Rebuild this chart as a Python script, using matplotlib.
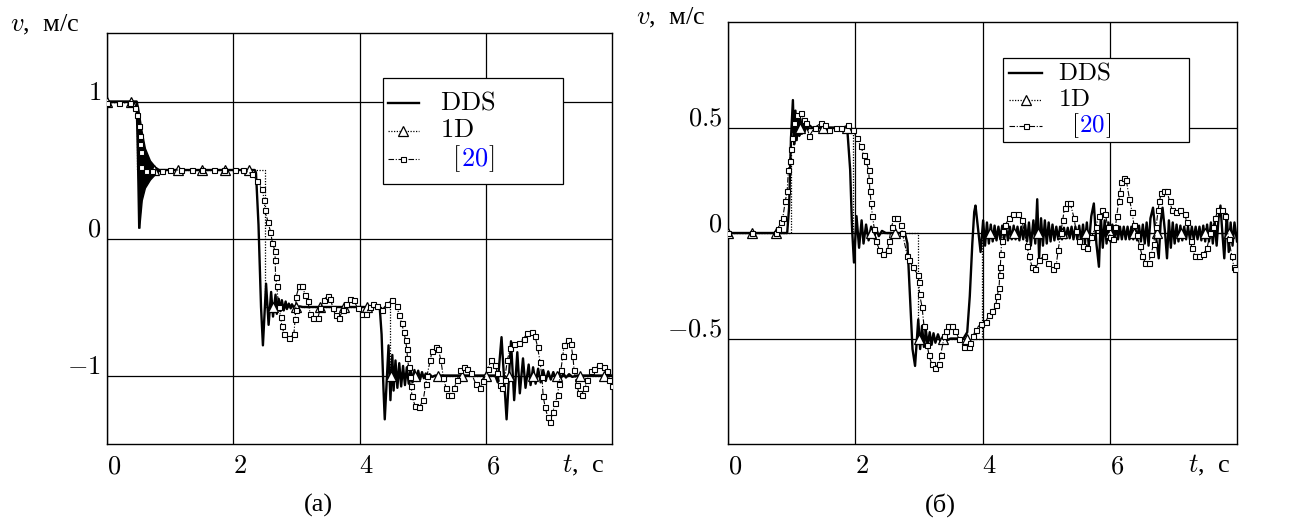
import numpy as np
import matplotlib
matplotlib.use('Agg')
import matplotlib.pyplot as plt
from matplotlib.transforms import offset_copy
from matplotlib.lines import Line2D
from matplotlib.patches import Rectangle

plt.rcParams['mathtext.fontset'] = 'cm'
plt.rcParams['font.family'] = ['Liberation Serif', 'DejaVu Serif']

FS = 19

# ---------------- panel (a) data ----------------
# DDS: plateau/oscillating line
a_dds_t = [0.0, 0.47, 0.49, 0.51]
a_dds_v = [1.0, 1.0, 0.6, 0.08]
# DDS dense damped burst right after t~0.5 (envelope)
a_env_t = [0.47, 0.49, 0.51, 0.55, 0.60, 0.68, 0.76, 0.84]
a_env_hi = [1.0, 0.96, 0.90, 0.78, 0.66, 0.57, 0.525, 0.50]
a_env_lo = [1.0, 0.50, 0.08, 0.28, 0.37, 0.43, 0.47, 0.50]
a_dds2_t = [0.84, 2.34, 2.36, 2.40, 2.44, 2.47, 2.52, 2.56, 2.60, 2.63, 2.67, 2.69,
            2.72, 2.75, 2.77, 2.80, 2.83, 2.85, 2.88, 2.91, 2.93, 2.96, 2.99, 3.02,
            3.05, 3.10, 4.32, 4.35, 4.38, 4.40, 4.46, 4.49, 4.52, 4.54, 4.57, 4.60,
            4.63, 4.66, 4.69, 4.72, 4.75, 4.78, 4.81, 4.84, 4.87, 4.90, 4.93, 4.96,
            4.99, 5.02, 5.05, 5.08, 5.11, 5.15, 5.20, 6.15, 6.19, 6.25, 6.33, 6.40,
            6.45, 6.50, 6.54, 6.59, 6.63, 6.68, 6.71, 6.75, 6.79, 6.83, 6.87, 6.91,
            6.95, 6.99, 7.03, 7.07, 7.11, 7.15, 7.19, 7.23, 7.27, 7.32, 7.37, 7.45, 8.0]
a_dds2_v = [0.5, 0.5, 0.48, 0.1, -0.5, -0.78, -0.33, -0.63, -0.39, -0.57, -0.41, -0.55,
            -0.44, -0.53, -0.45, -0.525, -0.46, -0.515, -0.475, -0.51, -0.48, -0.505, -0.49, -0.505,
            -0.495, -0.5, -0.5, -0.7, -1.1, -1.32, -0.78, -1.18, -0.85, -1.11, -0.89, -1.09,
            -0.91, -1.08, -0.93, -1.07, -0.94, -1.06, -0.95, -1.05, -0.96, -1.04, -0.965, -1.03,
            -0.975, -1.02, -0.985, -1.015, -0.99, -1.01, -1.0, -1.0, -1.05, -0.72, -1.32, -0.75,
            -1.18, -0.83, -1.13, -0.875, -1.09, -0.92, -1.07, -0.94, -1.06, -0.95, -1.05, -0.96,
            -1.04, -0.97, -1.03, -0.975, -1.025, -0.98, -1.02, -0.985, -1.015, -0.99, -1.01, -1.0, -1.0]

# 1D: step solution
a_1d_t = [0.0, 0.47, 0.47, 2.50, 2.50, 4.48, 4.48, 8.0]
a_1d_v = [1.0, 1.0, 0.5, 0.5, -0.5, -0.5, -1.0, -1.0]
tri_t = [0.0, 0.375, 0.75, 1.125, 1.5, 1.875, 2.25, 2.625, 3.0, 3.375, 3.75,
         4.125, 4.5, 4.875, 5.25, 5.625, 6.0, 6.375, 6.75, 7.125, 7.5, 7.875]
a_tri_v = [1.0, 1.0, 0.5, 0.5, 0.5, 0.5, 0.5, -0.5, -0.5, -0.5, -0.5,
           -0.5, -1.0, -1.0, -1.0, -1.0, -1.0, -1.0, -1.0, -1.0, -1.0, -1.0]

# [20]
a_ref_t = [0.0, 0.19, 0.37, 0.44, 0.48, 0.51, 0.52, 0.53, 0.535, 0.54, 0.62, 0.72, 0.87,
           1.0, 1.17, 1.34, 1.51, 1.69, 1.86, 2.02, 2.16, 2.30, 2.38, 2.46, 2.49, 2.50,
           2.55, 2.59, 2.62, 2.66, 2.665, 2.67, 2.69, 2.72, 2.75, 2.77, 2.81, 2.89, 2.96,
           2.98, 2.99, 2.995, 3.04, 3.09, 3.14, 3.18, 3.22, 3.27, 3.34, 3.38, 3.43, 3.50,
           3.54, 3.58, 3.62, 3.68, 3.74, 3.79, 3.85, 3.91, 3.97, 4.04, 4.10, 4.16, 4.22,
           4.28, 4.36, 4.44, 4.52, 4.59, 4.63, 4.67, 4.70, 4.73, 4.75, 4.76, 4.78, 4.80,
           4.82, 4.83, 4.88, 4.95, 5.01, 5.05, 5.07, 5.12, 5.15, 5.21, 5.25, 5.29, 5.33,
           5.37, 5.40, 5.45, 5.50, 5.55, 5.59, 5.65, 5.71, 5.77, 5.84, 5.91, 5.96, 6.03,
           6.09, 6.15, 6.18, 6.23, 6.26, 6.30, 6.34, 6.39, 6.45, 6.53, 6.60, 6.66, 6.73,
           6.78, 6.82, 6.86, 6.89, 6.91, 6.94, 6.98, 7.02, 7.06, 7.10, 7.14, 7.16, 7.19,
           7.22, 7.24, 7.30, 7.35, 7.38, 7.40, 7.44, 7.48, 7.52, 7.57, 7.61, 7.67, 7.72,
           7.80, 7.87, 7.92, 7.96, 8.00]
a_ref_v = [0.99, 0.99, 0.99, 0.955, 0.90, 0.82, 0.75, 0.69, 0.635, 0.52, 0.495, 0.49, 0.495,
           0.5, 0.5, 0.5, 0.5, 0.5, 0.5, 0.5, 0.5, 0.47, 0.42, 0.36, 0.28, 0.21,
           0.12, 0.05, -0.03, -0.09, -0.16, -0.28, -0.35, -0.50, -0.57, -0.64, -0.70, -0.725, -0.70,
           -0.59, -0.52, -0.43, -0.35, -0.35, -0.41, -0.456, -0.55, -0.58, -0.58, -0.51, -0.446, -0.42,
           -0.44, -0.51, -0.56, -0.58, -0.52, -0.475, -0.44, -0.45, -0.51, -0.55, -0.55, -0.50, -0.475,
           -0.49, -0.52, -0.475, -0.45, -0.49, -0.56, -0.62, -0.68, -0.74, -0.81, -0.875, -0.94, -1.01,
           -1.08, -1.15, -1.22, -1.23, -1.18, -1.06, -1.0, -0.89, -0.82, -0.795, -0.81, -0.89, -1.02,
           -1.09, -1.14, -1.14, -1.09, -1.03, -0.96, -0.94, -0.95, -0.98, -1.06, -1.09, -1.04, -0.95,
           -0.89, -0.92, -0.98, -1.07, -1.09, -1.03, -0.89, -0.80, -0.77, -0.76, -0.73, -0.69, -0.68,
           -0.71, -0.79, -0.90, -1.01, -1.15, -1.23, -1.30, -1.34, -1.27, -1.20, -1.14, -1.06, -0.96,
           -0.86, -0.78, -0.74, -0.77, -0.86, -0.96, -1.07, -1.13, -1.14, -1.09, -1.03, -0.97, -0.95,
           -0.92, -0.94, -0.97, -1.03, -1.08]

# ---------------- panel (б) data ----------------
b_dds_t = [0.00, 0.93, 0.96, 0.99, 1.02, 1.04, 1.06, 1.08, 1.10, 1.12, 1.14, 1.16, 1.18, 1.20,
           1.22, 1.25, 1.28, 1.32, 1.84, 1.88, 1.92, 1.95, 1.98, 2.02, 2.06, 2.10, 2.13, 2.17,
           2.21, 2.25, 2.29, 2.33, 2.37, 2.42, 2.48, 2.78, 2.82, 2.86, 2.90, 2.94, 2.99, 3.02,
           3.05, 3.08, 3.11, 3.14, 3.17, 3.20, 3.23, 3.26, 3.30, 3.34, 3.38, 3.43, 3.50, 3.70,
           3.76, 3.80, 3.84, 3.87, 3.89, 3.93, 3.97, 4.01, 4.04, 4.07, 4.10, 4.13, 4.16, 4.19,
           4.22, 4.25, 4.28, 4.31, 4.34, 4.37, 4.40, 4.43, 4.46, 4.49, 4.52, 4.55, 4.58, 4.61,
           4.64, 4.67, 4.70, 4.73, 4.76, 4.80, 4.83, 4.86, 4.89, 4.92, 4.95, 4.98, 5.01, 5.04,
           5.07, 5.10, 5.13, 5.16, 5.19, 5.22, 5.25, 5.28, 5.31, 5.34, 5.37, 5.40, 5.43, 5.46,
           5.49, 5.52, 5.55, 5.58, 5.61, 5.64, 5.67, 5.71, 5.75, 5.79, 5.83, 5.86, 5.89, 5.92,
           5.95, 5.98, 6.01, 6.04, 6.07, 6.10, 6.13, 6.16, 6.19, 6.22, 6.25, 6.28, 6.31, 6.34,
           6.37, 6.40, 6.43, 6.46, 6.49, 6.52, 6.55, 6.58, 6.61, 6.64, 6.68, 6.72, 6.77, 6.80,
           6.83, 6.87, 6.90, 6.93, 6.96, 6.99, 7.02, 7.05, 7.08, 7.11, 7.14, 7.17, 7.20, 7.23,
           7.26, 7.29, 7.32, 7.35, 7.38, 7.41, 7.44, 7.47, 7.50, 7.53, 7.56, 7.59, 7.62, 7.65,
           7.68, 7.71, 7.74, 7.77, 7.80, 7.84, 7.87, 7.90, 7.93, 7.96, 8.00]
b_dds_v = [0.0, 0.0, 0.12, 0.45, 0.63, 0.42, 0.58, 0.44, 0.56, 0.46, 0.54, 0.47, 0.53, 0.48,
           0.52, 0.49, 0.51, 0.50, 0.50, 0.47, 0.30, 0.02, -0.14, 0.08, -0.07, 0.06, -0.05, 0.04,
           -0.035, 0.03, -0.025, 0.02, -0.015, 0.01, 0.0, 0.0, -0.05, -0.30, -0.55, -0.63, -0.41, -0.55,
           -0.44, -0.54, -0.46, -0.535, -0.47, -0.53, -0.475, -0.52, -0.48, -0.515, -0.49, -0.51, -0.5, -0.5,
           -0.47, -0.30, -0.05, 0.10, 0.13, 0.02, -0.09, 0.06, -0.06, 0.05, -0.05, 0.04, -0.04, 0.035,
           -0.035, 0.03, -0.03, 0.035, -0.03, 0.03, -0.035, 0.03, -0.03, 0.035, -0.03, 0.03, -0.035, 0.03,
           -0.03, 0.04, -0.04, 0.05, -0.06, 0.06, -0.05, 0.16, -0.12, 0.07, -0.06, 0.06, -0.05, 0.05,
           -0.04, 0.04, -0.035, 0.03, -0.03, 0.03, -0.03, 0.025, -0.025, 0.025, -0.025, 0.03, -0.03, 0.03,
           -0.03, 0.035, -0.04, 0.04, -0.05, 0.05, -0.06, 0.08, 0.14, -0.05, -0.16, 0.08, -0.07, 0.06,
           -0.05, 0.05, -0.04, 0.04, -0.035, 0.035, -0.03, 0.03, -0.03, 0.03, -0.03, 0.03, -0.03, 0.03,
           -0.03, 0.03, -0.035, 0.035, -0.04, 0.04, -0.05, 0.05, -0.06, 0.07, 0.12, 0.0, -0.12, 0.05,
           0.12, 0.0, -0.12, 0.06, -0.07, 0.05, -0.05, 0.04, -0.04, 0.035, -0.035, 0.03, -0.03, 0.03,
           -0.03, 0.03, -0.03, 0.03, -0.03, 0.03, -0.035, 0.035, -0.04, 0.04, -0.04, 0.05, -0.05, 0.05,
           -0.06, 0.07, 0.13, 0.0, -0.12, 0.09, -0.09, 0.05, -0.06, 0.05, -0.04]

b_1d_t = [0.0, 0.99, 0.99, 1.97, 1.97, 2.99, 2.99, 3.99, 3.99, 8.0]
b_1d_v = [0.0, 0.0, 0.5, 0.5, 0.0, 0.0, -0.5, -0.5, 0.0, 0.0]
b_tri_v = [0.0, 0.0, 0.0, 0.5, 0.5, 0.5, 0.0, 0.0, -0.5, -0.5, -0.5,
           0.0, 0.0, 0.0, 0.0, 0.0, 0.0, 0.0, 0.0, 0.0, 0.0, 0.0]

b_ref_t = [0.0, 0.37, 0.75, 0.78, 0.83, 0.86, 0.90, 0.93, 0.95, 0.97, 0.99, 1.00, 1.04, 1.08,
           1.15, 1.19, 1.22, 1.28, 1.36, 1.46, 1.53, 1.59, 1.70, 1.78, 1.88, 1.96, 2.02, 2.09,
           2.13, 2.17, 2.21, 2.22, 2.23, 2.25, 2.27, 2.30, 2.33, 2.38, 2.44, 2.51, 2.53, 2.57,
           2.61, 2.66, 2.72, 2.74, 2.82, 2.85, 2.90, 2.99, 3.00, 3.01, 3.05, 3.08, 3.13, 3.16,
           3.20, 3.25, 3.31, 3.34, 3.40, 3.42, 3.46, 3.52, 3.57, 3.63, 3.71, 3.79, 3.81, 3.85,
           3.89, 3.97, 4.05, 4.10, 4.15, 4.21, 4.23, 4.26, 4.27, 4.28, 4.29, 4.30, 4.32, 4.36,
           4.42, 4.48, 4.56, 4.62, 4.70, 4.73, 4.78, 4.83, 4.89, 4.96, 5.03, 5.11, 5.16, 5.19,
           5.23, 5.26, 5.29, 5.33, 5.38, 5.44, 5.47, 5.51, 5.58, 5.64, 5.71, 5.78, 5.83, 5.88,
           5.93, 5.97, 6.01, 6.05, 6.09, 6.11, 6.14, 6.16, 6.18, 6.22, 6.26, 6.31, 6.35, 6.38,
           6.43, 6.47, 6.51, 6.56, 6.61, 6.65, 6.69, 6.73, 6.76, 6.78, 6.81, 6.85, 6.90, 6.94,
           6.98, 7.04, 7.11, 7.18, 7.21, 7.27, 7.29, 7.34, 7.41, 7.47, 7.53, 7.58, 7.62, 7.66,
           7.70, 7.76, 7.81, 7.87, 7.92, 7.95, 7.97]
b_ref_v = [0.0, 0.0, 0.0, 0.02, 0.05, 0.07, 0.15, 0.20, 0.30, 0.34, 0.40, 0.45, 0.52, 0.56,
           0.57, 0.535, 0.52, 0.46, 0.50, 0.52, 0.51, 0.49, 0.50, 0.50, 0.51, 0.49, 0.45, 0.41,
           0.37, 0.34, 0.30, 0.25, 0.20, 0.14, 0.08, 0.02, -0.04, -0.08, -0.10, -0.08, -0.04, 0.03,
           0.07, 0.07, 0.04, 0.0, -0.11, -0.13, -0.16, -0.20, -0.23, -0.29, -0.35, -0.44, -0.53, -0.58,
           -0.62, -0.64, -0.62, -0.58, -0.49, -0.465, -0.44, -0.44, -0.465, -0.50, -0.54, -0.54, -0.52, -0.49,
           -0.46, -0.43, -0.42, -0.39, -0.37, -0.34, -0.30, -0.26, -0.20, -0.16, -0.10, -0.04, 0.01, 0.04,
           0.07, 0.09, 0.09, 0.06, -0.06, -0.11, -0.16, -0.17, -0.13, -0.11, -0.14, -0.17, -0.15, -0.08,
           0.0, 0.06, 0.12, 0.14, 0.14, 0.07, 0.01, -0.04, -0.06, -0.07, -0.02, 0.03, 0.08, 0.11,
           0.09, 0.03, -0.02, -0.03, 0.03, 0.08, 0.15, 0.19, 0.24, 0.26, 0.25, 0.16, 0.10, 0.04,
           -0.01, -0.06, -0.11, -0.14, -0.14, -0.10, -0.05, 0.03, 0.11, 0.15, 0.19, 0.20, 0.20, 0.15,
           0.11, 0.10, 0.11, 0.09, 0.05, -0.04, -0.07, -0.11, -0.11, -0.10, -0.07, 0.0, 0.03, 0.07,
           0.11, 0.11, 0.08, -0.03, -0.11, -0.16, -0.17]

xticks = [0, 2, 4, 6]
a_yticks = [1, 0, -1]
a_ylabels = ['$1$', '$0$', '$-1$']
b_yticks = [0.5, 0, -0.5]
b_ylabels = ['$0.5$', '$0$', '$-0.5$']
legend_names = ['DDS', '1D', '20']

# ---------------- figure ----------------
W, H = 1292, 524
fig = plt.figure(figsize=(W / 100, H / 100), dpi=100)
axA = fig.add_axes([107 / W, 1 - 444 / H, 505 / W, 411 / H])
axB = fig.add_axes([728 / W, 1 - 444 / H, 509 / W, 422 / H])

ref_kw = dict(color='black', lw=0.8, ls=(0, (5, 1.5, 1, 1.5)), marker='s', ms=3.6,
              mfc='white', mec='black', mew=0.8, zorder=4)
tri_kw = dict(ls='none', marker='^', ms=6.5, mfc='white', mec='black', mew=0.9, zorder=3.5)
od_kw = dict(color='black', lw=0.9, ls=(0, (1, 1.2)), zorder=3)
dds_kw = dict(color='black', lw=1.7, zorder=2.5)

# panel a
axA.plot(a_dds_t, a_dds_v, **dds_kw)
axA.fill_between(a_env_t, a_env_lo, a_env_hi, color='black', lw=1.0, zorder=2.5)
axA.plot(a_dds2_t, a_dds2_v, **dds_kw)
axA.plot(a_1d_t, a_1d_v, **od_kw)
axA.plot(tri_t, a_tri_v, **tri_kw)
axA.plot(a_ref_t, a_ref_v, **ref_kw)
axA.set_xlim(0, 8)
axA.set_ylim(-1.5, 1.5)

# panel b
axB.plot(b_dds_t, b_dds_v, **dds_kw)
axB.plot(b_1d_t, b_1d_v, **od_kw)
axB.plot(tri_t, b_tri_v, **tri_kw)
axB.plot(b_ref_t, b_ref_v, **ref_kw)
axB.set_xlim(0, 8)
axB.set_ylim(-1.0, 1.0)

for ax, yt, yl in [(axA, a_yticks, a_ylabels), (axB, b_yticks, b_ylabels)]:
    ax.set_xticks(xticks)
    ax.set_yticks(yt)
    ax.tick_params(length=0, labelbottom=False, labelleft=False)
    ax.grid(True, color='black', lw=0.9)
    ax.set_axisbelow(True)
    for s in ax.spines.values():
        s.set_linewidth(1.0)
    xtr = offset_copy(ax.get_xaxis_transform(), fig=fig, x=7, y=-23, units='dots')
    for xv in xticks:
        ax.text(xv, 0, f'${xv}$', transform=xtr, ha='center', va='center', fontsize=FS)
    ytr = offset_copy(ax.get_yaxis_transform(), fig=fig, x=-6, y=8, units='dots')
    for yv, lab in zip(yt, yl):
        ax.text(0, yv, lab, transform=ytr, ha='right', va='center', fontsize=FS)


def draw_legend(ax, box, rows, hx, tx, tx20, fs):
    x0, y0, x1, y1 = box
    ax.add_patch(Rectangle((x0, y0), x1 - x0, y1 - y0, transform=ax.transAxes,
                           facecolor='white', edgecolor='black', lw=0.9, zorder=10))
    hm = 0.5 * (hx[0] + hx[1])
    # DDS
    ax.add_line(Line2D(hx, [rows[0]] * 2, transform=ax.transAxes, color='black', lw=1.7, zorder=11))
    # 1D
    ax.add_line(Line2D(hx, [rows[1]] * 2, transform=ax.transAxes, color='black', lw=0.9,
                       ls=(0, (1, 1.2)), zorder=11))
    ax.add_line(Line2D([hm], [rows[1]], transform=ax.transAxes, ls='none', marker='^', ms=6.5,
                       mfc='white', mec='black', mew=0.9, zorder=12))
    # [20]
    ax.add_line(Line2D(hx, [rows[2]] * 2, transform=ax.transAxes, color='black', lw=0.8,
                       ls=(0, (5, 1.5, 1, 1.5)), zorder=11))
    ax.add_line(Line2D([hm], [rows[2]], transform=ax.transAxes, ls='none', marker='s', ms=3.6,
                       mfc='white', mec='black', mew=0.8, zorder=12))
    ax.text(tx, rows[0], r'$\mathrm{' + legend_names[0] + '}$', transform=ax.transAxes,
            ha='left', va='center', fontsize=fs, zorder=12)
    ax.text(tx, rows[1], r'$\mathrm{' + legend_names[1] + '}$', transform=ax.transAxes,
            ha='left', va='center', fontsize=fs, zorder=12)
    return ax.text(tx20, rows[2], r'$[$', transform=ax.transAxes,
                   ha='left', va='center', fontsize=fs, zorder=12)


tA = draw_legend(axA, (0.546, 0.632, 0.902, 0.890), [0.8297, 0.7616, 0.6934],
                 [0.5564, 0.6178], 0.660, 0.683, FS)
tB = draw_legend(axB, (0.541, 0.716, 0.906, 0.914), [0.8785, 0.8140, 0.7540],
                 [0.552, 0.617], 0.648, 0.674, 18)

fig.canvas.draw()
for ax, t, fs in [(axA, tA, FS), (axB, tB, 18)]:
    bb = t.get_window_extent()
    t2 = fig.text(bb.x1, (bb.y0 + bb.y1) / 2, r'$\mathrm{' + legend_names[2] + '}$',
                  transform=None, ha='left', va='center', fontsize=fs, color='blue', zorder=12)
    fig.canvas.draw()
    bb2 = t2.get_window_extent()
    fig.text(bb2.x1, (bb.y0 + bb.y1) / 2, r'$]$', transform=None, ha='left', va='center',
             fontsize=fs, zorder=12)

fig.text(10 / W, 1 - 25 / H, '$v$,  м/с', ha='left', va='center', fontsize=FS)
fig.text(636 / W, 1 - 18 / H, '$v$,  м/с', ha='left', va='center', fontsize=FS)
fig.text(562 / W, 1 - 465 / H, '$t$,  с', ha='left', va='center', fontsize=FS)
fig.text(1188 / W, 1 - 465 / H, '$t$,  с', ha='left', va='center', fontsize=FS)
fig.text(318 / W, 1 - 505 / H, '(а)', ha='center', va='center', fontsize=FS)
fig.text(940 / W, 1 - 505 / H, '(б)', ha='center', va='center', fontsize=FS)

fig.savefig('out.png', dpi=100)
